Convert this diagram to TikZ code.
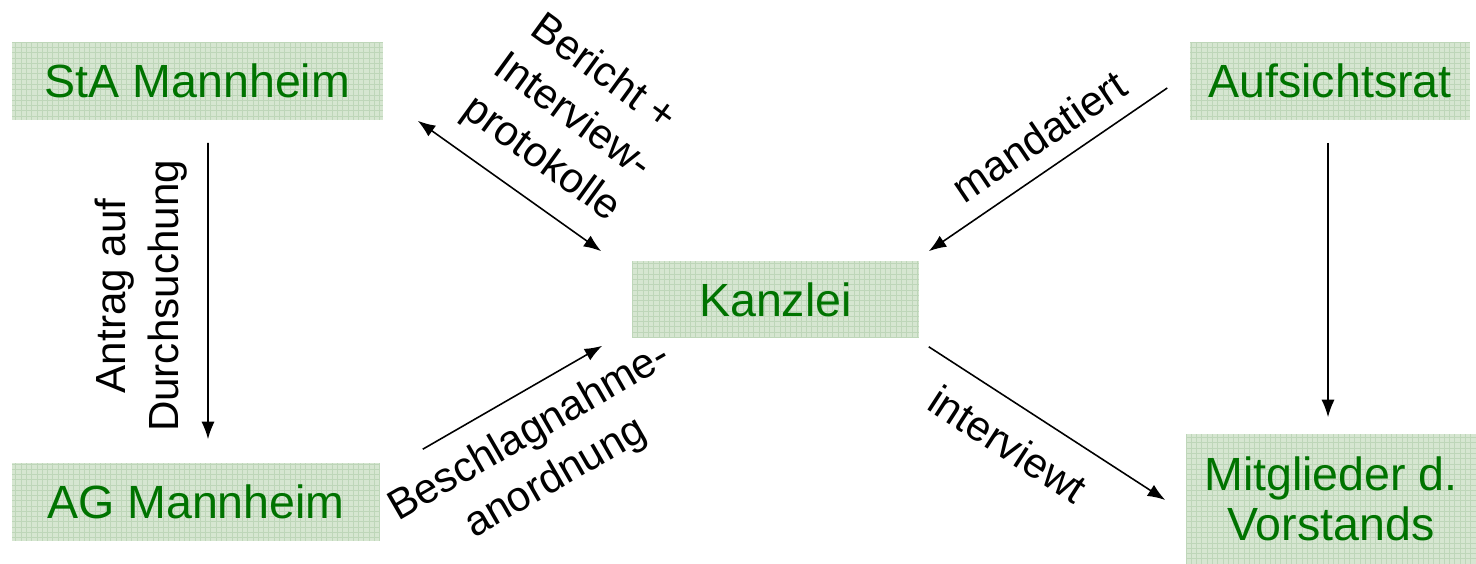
\documentclass[tikz,border=0pt]{standalone}
\usepackage{fontspec}
\setmainfont{Liberation Sans}
\usepackage{tikz}
\usetikzlibrary{arrows,arrows.meta}
\usetikzlibrary{calc,patterns}

\definecolor{boxfill}{RGB}{214,230,209}
\definecolor{boxgrid}{RGB}{190,214,185}
\definecolor{boxtext}{RGB}{0,115,0}

\begin{document}
\begin{tikzpicture}
[>={Latex[length=10pt,width=7.5pt]},x=0.02cm,y=-0.02cm,
 every path/.style={line width=0.9pt},
 box/.style={rectangle,fill=boxfill,postaction={pattern=grid,pattern color=boxgrid},
   text=boxtext,inner sep=0pt,align=center,font=\fontsize{26.5}{28.5}\selectfont},
 lbl/.style={inner sep=0pt,align=center,font=\fontsize{24}{30}\selectfont}]

\useasboundingbox (0,0) rectangle (1476,564);

% boxes
\node[box,minimum width=7.42cm,minimum height=1.56cm] (sta) at (197.5,81) {StA Mannheim};
\node[box,minimum width=7.36cm,minimum height=1.56cm] (ag) at (196,502) {AG Mannheim};
\node[box,minimum width=5.74cm,minimum height=1.54cm] (kanzlei) at (775.5,299.5) {Kanzlei};
\node[box,minimum width=5.6cm,minimum height=1.56cm] (auf) at (1330,81) {Aufsichtsrat};
\node[box,minimum width=5.8cm,minimum height=2.6cm] (mit) at (1331,499) {Mitglieder d.\\Vorstands};

% arrows
\draw[->] ($(sta.south)+(10.5,22)$) -- ($(ag.north)+(12,-23)$);
\draw[->] ($(auf.south)+(-2,22)$) -- ($(mit.north)+(-3,-16)$);
\draw[<->] ($(sta.south east)+(34,0)$) -- ($(kanzlei.north west)+(-30,-9)$);
\draw[->] ($(ag.north east)+(42,-13)$) -- ($(kanzlei.south west)+(-29,7)$);
\draw[->] ($(auf.west)+(-22,7)$) -- ($(kanzlei.north east)+(9,-9)$);
\draw[->] ($(kanzlei.south east)+(9,8)$) -- ($(mit.west)+(-20,1)$);

% labels
\node[lbl,rotate=90] (antrag) at (141,296) {Antrag auf\\Durchsuchung};
\node[lbl,rotate=-36] (bericht) at (572,117) {Bericht +\\Interview-\\protokolle};
\node[lbl,rotate=30] (beschl) at (543,456) {Beschlagnahme-\\anordnung};
\node[lbl,rotate=34] (mand) at (1039,136) {mandatiert};
\node[lbl,rotate=-33] (interv) at (1008,444) {interviewt};
\end{tikzpicture}
\end{document}
